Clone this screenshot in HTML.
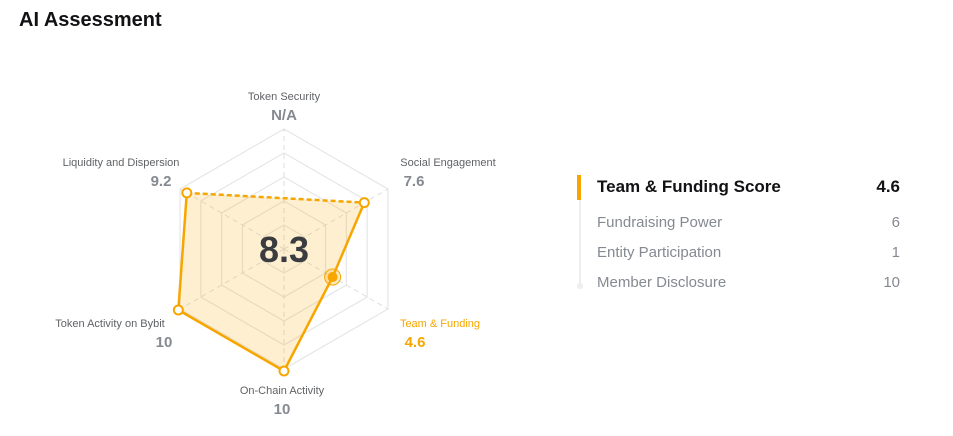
<!DOCTYPE html>
<html><head><meta charset="utf-8"><style>
body{margin:0;width:953px;height:436px;background:#fff;font-family:"Liberation Sans",sans-serif;overflow:hidden;position:relative}
.t{position:absolute}
</style></head><body>
<div class="t" style="left:19px;top:9px;font-size:20px;font-weight:bold;color:#121214">AI Assessment</div>
<svg id="radar" width="953" height="436" style="position:absolute;left:0;top:0"></svg>
<div>
<div class="t" style="left:579px;top:176px;width:2px;height:110px;background:#eeeef0"></div>
<div class="t" style="left:577px;top:175px;width:4px;height:25px;background:#f7a600"></div>
<div class="t" style="left:577px;top:283px;width:6px;height:6px;border-radius:3px;background:#eeeef0"></div>
<div class="t" style="left:597px;top:177px;font-size:17px;font-weight:bold;color:#121214">Team &amp; Funding Score</div>
<div class="t" style="right:53px;top:177px;font-size:17px;font-weight:bold;color:#121214">4.6</div>
<div class="t" style="left:597px;top:214px;font-size:15px;color:#858991">Fundraising Power</div>
<div class="t" style="right:53px;top:214px;font-size:15px;color:#858991">6</div>
<div class="t" style="left:597px;top:244px;font-size:15px;color:#858991">Entity Participation</div>
<div class="t" style="right:53px;top:244px;font-size:15px;color:#858991">1</div>
<div class="t" style="left:597px;top:274px;font-size:15px;color:#858991">Member Disclosure</div>
<div class="t" style="right:53px;top:274px;font-size:15px;color:#858991">10</div>
</div>
<script>
const categories=["Token Security","Social Engagement","Team & Funding","On-Chain Activity","Token Activity on Bybit","Liquidity and Dispersion"];
const values=[null,7.6,4.6,10,10,9.2];
const valueLabels=["N/A","7.6","4.6","10","10","9.2"];
const overall="8.3";
const svg=document.getElementById('radar');
const NS="http://www.w3.org/2000/svg";
const cx=284,cy=249,R=122,maxV=10,GR=120;
function ang(i){return -Math.PI/2+i*Math.PI/3;}
function pt(i,v,rr){const a=ang(i),r=(rr||R)*v/maxV;return [cx+r*Math.cos(a),cy+r*Math.sin(a)];}
function mk(tag,attrs){const e=document.createElementNS(NS,tag);for(const k in attrs)e.setAttribute(k,attrs[k]);svg.appendChild(e);return e;}
for(let k=1;k<=5;k++){const p=categories.map((c,i)=>pt(i,maxV*k/5,GR).join(',')).join(' ');
const g=mk('polygon',{points:p,fill:'none',stroke:'#e6e6e8','stroke-width':1.2});

}
categories.forEach((c,i)=>{const [x,y]=pt(i,maxV,GR);const l=mk('line',{x1:cx,y1:cy,x2:x,y2:y,stroke:'#dcdcde','stroke-dasharray':'5 4'});

});
const vp=values.map((v,i)=>v==null?null:pt(i,v));
const valid=vp.filter(p=>p);
const area=mk('polygon',{points:valid.map(p=>p.join(',')).join(' '),fill:'rgba(247,166,0,0.18)',stroke:'none'});


for(let i=0;i<6;i++){const a=vp[i],b=vp[(i+1)%6];if(!a||!b)continue;const l=mk('line',{x1:a[0],y1:a[1],x2:b[0],y2:b[1],stroke:'#f7a600','stroke-width':2.5});

}
{const idx=values.findIndex(v=>v==null);if(idx>=0){const a=vp[(idx+5)%6],b=vp[(idx+1)%6];const l=mk('line',{x1:a[0],y1:a[1],x2:b[0],y2:b[1],stroke:'#f7a600','stroke-width':2.5,'stroke-dasharray':'5 3'});

}}
vp.forEach((p,i)=>{if(!p)return;let c;
if(i===2){const h=mk('circle',{cx:p[0],cy:p[1],r:8,fill:'rgba(247,166,0,0.25)',stroke:'#f7a600','stroke-width':1});
c=mk('circle',{cx:p[0],cy:p[1],r:5,fill:'#f7a600'});}
else c=mk('circle',{cx:p[0],cy:p[1],r:4.5,fill:'#fff',stroke:'#f7a600','stroke-width':2});

});
const lblPos=[[284,100],[448,166],[440,327],[282,394],[110,327],[121,166]];
categories.forEach((c,i)=>{const [x,y]=lblPos[i];const col=i===2?'#f7a600':'#606266';
const t=mk('text',{x:x,y:y,'text-anchor':'middle','font-size':11,fill:col,'font-family':'Liberation Sans, sans-serif'});t.textContent=c;


let vx=x;if(i===1)vx=414;if(i===5)vx=161;if(i===2)vx=415;if(i===4)vx=164;
const v=mk('text',{x:vx,y:y+20,'text-anchor':'middle','font-size':15,'font-weight':'bold',fill:i===2?'#f7a600':'#858991','font-family':'Liberation Sans, sans-serif'});v.textContent=valueLabels[i];

});
const ov=mk('text',{x:cx,y:cy+13,'text-anchor':'middle','font-size':36,'font-weight':'bold',fill:'#3a3c40','font-family':'Liberation Sans, sans-serif'});ov.textContent=overall;


</script>
</body></html>
